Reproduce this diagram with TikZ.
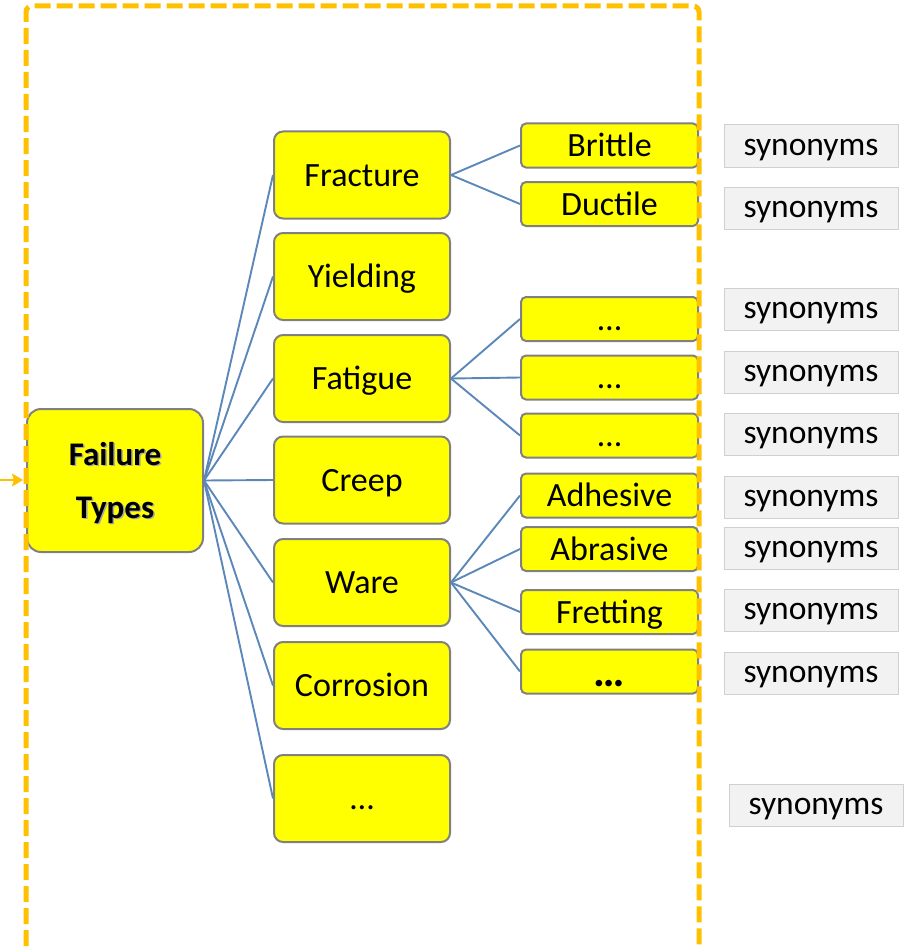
\documentclass[tikz,border=0pt]{standalone}
\usepackage{fontspec}
\setmainfont{Carlito}
\usetikzlibrary{arrows.meta}
\definecolor{boxgray}{HTML}{808080}
\definecolor{boxyellow}{HTML}{FFFF00}
\definecolor{linkblue}{HTML}{5B87B9}
\definecolor{synfill}{HTML}{F2F2F2}
\definecolor{synborder}{HTML}{D0D0D0}
\definecolor{frameorange}{HTML}{FFC000}
\tikzset{
  basebox/.style={draw=boxgray, line width=2pt, fill=boxyellow, inner sep=0pt,
    font=\fontsize{34}{40}\selectfont, text height=22pt, text depth=0pt},
  midbox/.style={basebox, minimum width=176pt, minimum height=87pt, rounded corners=9pt},
  leafbox/.style={basebox, minimum width=177pt, minimum height=44pt, rounded corners=5pt},
  synbox/.style={draw=synborder, fill=synfill, line width=1pt, inner sep=0pt,
    minimum width=174pt, minimum height=42pt, font=\fontsize{33.5}{40}\selectfont,
    text height=18pt, text depth=0pt},
  link/.style={draw=linkblue, line width=1.9pt},
  frame/.style={draw=frameorange, line width=5pt, dash pattern=on 16pt off 6pt, rounded corners=6pt}
}
\begin{document}
\begin{tikzpicture}[x=1pt,y=-1pt]
\useasboundingbox (0,0) rectangle (905,947);
\begin{scope}
\clip (0,0) rectangle (905,947);
% root
\node[basebox, minimum width=176pt, minimum height=143pt, rounded corners=14pt] (ft) at (115,480.5) {};
\node[text=black!35, font=\bfseries\fontsize{33}{53}\selectfont, align=center] (ftshadow) at (116.5,484.5) {Failure\\Types};
\node[font=\bfseries\fontsize{33}{53}\selectfont, align=center] (fttext) at (115,483) {Failure\\Types};
% middle
\node[midbox] (fracture) at (362,175) {Fracture};
\node[midbox] (yielding) at (362,276.5) {Yielding};
\node[midbox] (fatigue) at (362,378.5) {Fatigue};
\node[midbox] (creep) at (362,480) {Creep};
\node[midbox] (ware) at (362,582.5) {Ware};
\node[midbox] (corrosion) at (362,685.5) {Corrosion};
\node[midbox] (mdots) at (362,798.5) {…};
% leaves
\node[leafbox] (brittle) at (609.5,145.5) {Brittle};
\node[leafbox] (ductile) at (609.5,204) {Ductile};
\node[leafbox] (fa) at (609.5,319) {…};
\node[leafbox] (fb) at (609.5,377.5) {…};
\node[leafbox] (fc) at (609.5,435.5) {…};
\node[leafbox] (adhesive) at (609.5,495.5) {Adhesive};
\node[leafbox] (abrasive) at (609.5,549) {Abrasive};
\node[leafbox] (fretting) at (609.5,612) {Fretting};
\node[leafbox, font=\bfseries\fontsize{44}{44}\selectfont, text height=29pt] (wdots) at (609.5,671.5) {…};
% connectors
\foreach \m in {fracture,yielding,fatigue,creep,ware,corrosion,mdots}
  \draw[link] (ft.east) -- (\m.west);
\draw[link] (fracture.east) -- (brittle.west);
\draw[link] (fracture.east) -- (ductile.west);
\foreach \l in {fa,fb,fc} \draw[link] (fatigue.east) -- (\l.west);
\foreach \l in {adhesive,abrasive,fretting,wdots} \draw[link] (ware.east) -- (\l.west);
% synonyms
\node[synbox] (s1) at (811,146) {synonyms};
\node[synbox] (s2) at (811,208) {synonyms};
\node[synbox] (s3) at (811,309) {synonyms};
\node[synbox] (s4) at (811,372) {synonyms};
\node[synbox] (s5) at (811,434) {synonyms};
\node[synbox] (s6) at (811,497) {synonyms};
\node[synbox] (s7) at (811,548) {synonyms};
\node[synbox] (s8) at (811,610) {synonyms};
\node[synbox] (s9) at (811,673) {synonyms};
\node[synbox] (s10) at (816,805) {synonyms};
% frame
\draw[frame] (26,990) -- (26,6) -- (699,6) -- (699,990);
\coordinate (arrstart) at (0,480);
\draw[draw=frameorange, line width=2.5pt, -{Stealth[length=11pt,width=13pt,inset=2pt]}] (arrstart) -- (23,480);
\end{scope}
\end{tikzpicture}
\end{document}
